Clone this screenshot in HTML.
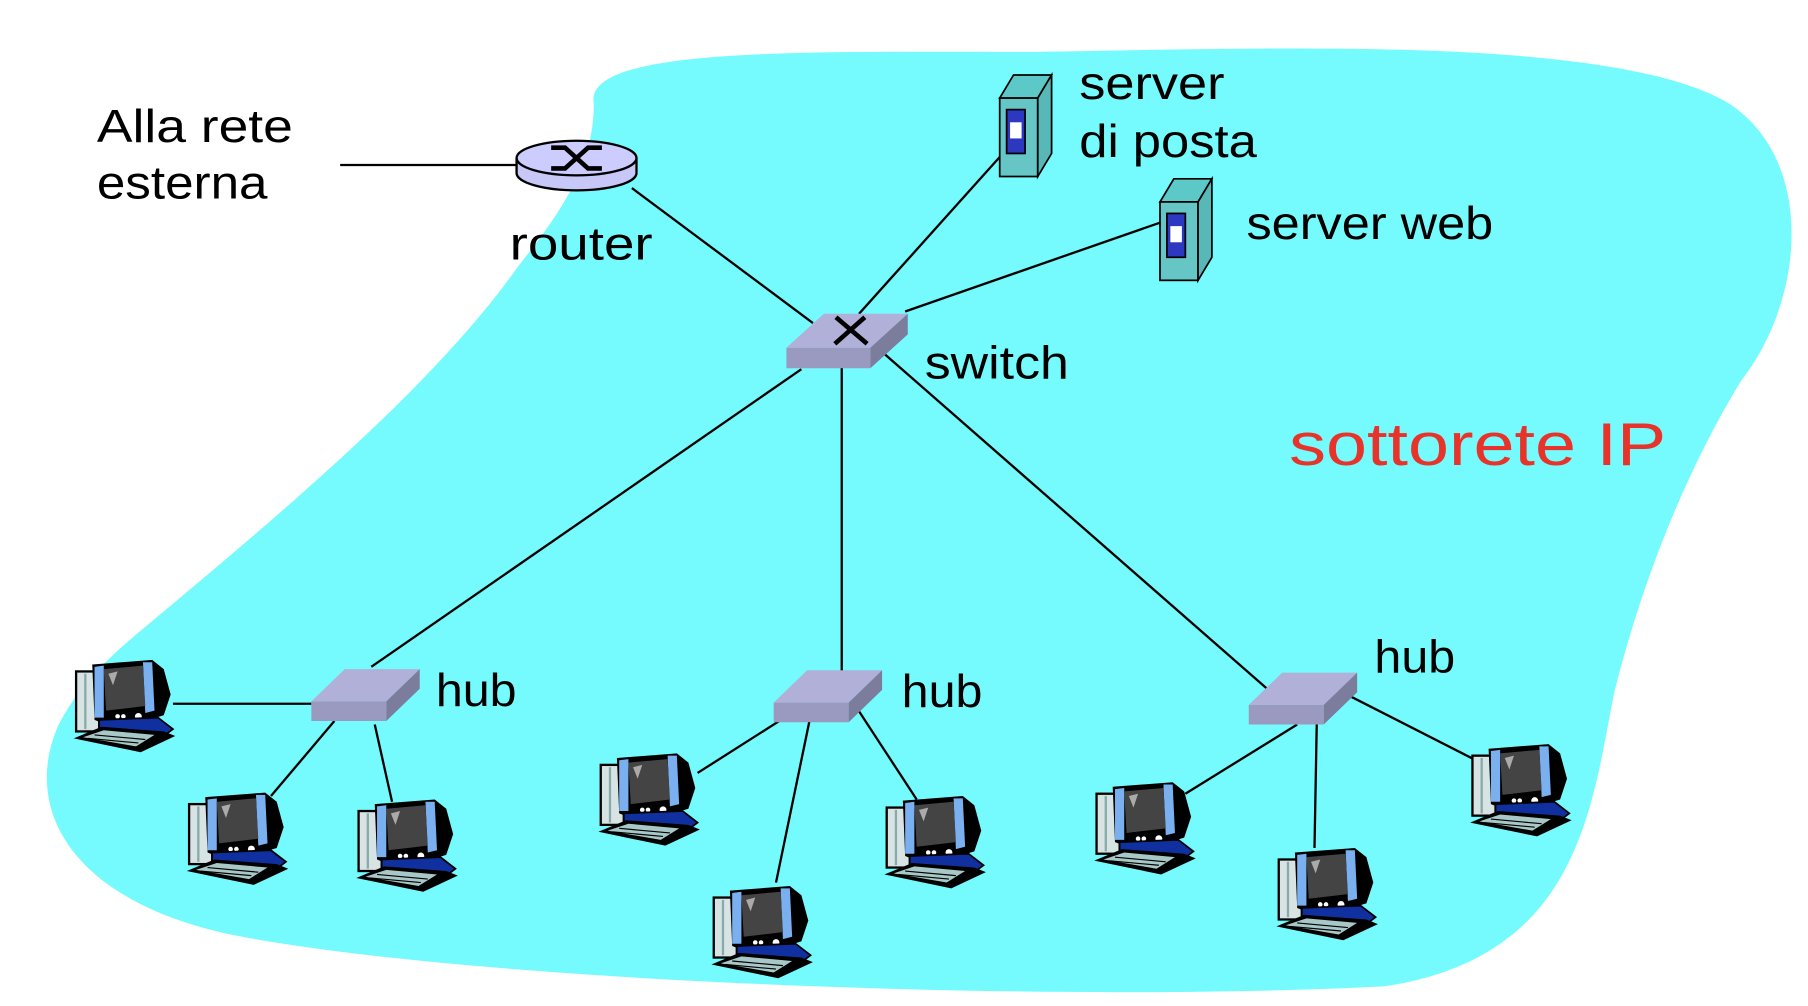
<!DOCTYPE html>
<html><head><meta charset="utf-8"><style>
html,body{margin:0;padding:0;background:#fff;width:1808px;height:1006px;overflow:hidden}
svg{display:block}
text{font-family:"Liberation Sans",sans-serif;font-size:40px;fill:#000}
</style></head><body>
<svg width="1808" height="1006" viewBox="0 0 1568 872" preserveAspectRatio="none">
<defs>
<g id="pc">
  <rect x="4" y="10" width="20" height="52" fill="#d8e4e4" stroke="#000" stroke-width="2"/>
  <line x1="12" y1="12" x2="12" y2="60" stroke="#8aa" stroke-width="2"/>
  <path d="M18 4 L70 0 L80 8 L86 30 L80 48 L60 54 L30 56 L20 52 Z" fill="#000"/>
  <path d="M20 6 L28 5 L28 50 L20 50 Z" fill="#7ab0f0"/>
  <path d="M62 2 L70 2 L72 44 L64 46 Z" fill="#7ab0f0"/>
  <path d="M28 8 L62 5 L64 40 L30 44 Z" fill="#444"/>
  <path d="M32 12 L40 10 L36 22 Z" fill="#aaa"/>
  <circle cx="40" cy="49" r="2" fill="#fff"/><circle cx="45" cy="49" r="2" fill="#fff"/><circle cx="58" cy="49" r="3" fill="#fff"/>
  <path d="M24 52 L75 50 L88 60 L80 66 L24 64 Z" fill="#1030a0" stroke="#000" stroke-width="1.5"/>
  <path d="M2 68 L26 58 L80 62 L90 66 L60 80 Z" fill="#000"/>
  <path d="M10 67 L28 61 L72 65 L56 75 Z" fill="#a8c8c8"/>
  <path d="M14 68 L58 72 M20 65 L64 69" stroke="#000" stroke-width="1"/>
</g>
<g id="hub">
  <polygon points="0,28 29,0 94,0 65,28" fill="#b0b0d8"/>
  <polygon points="0,28 65,28 65,45 0,45" fill="#9a9ac0"/>
  <polygon points="65,28 94,0 94,17 65,45" fill="#7c7c9c"/>
</g>
<g id="srv">
  <polygon points="0,20 12,0 45,0 33,20" fill="#5cc8c8" stroke="#000" stroke-width="1.5"/>
  <rect x="0" y="20" width="33" height="68" fill="#66c6c6" stroke="#000" stroke-width="1.5"/>
  <polygon points="33,20 45,0 45,68 33,88" fill="#58b8b8" stroke="#000" stroke-width="1.5"/>
  <rect x="6" y="30" width="16" height="38" fill="#2c38c0" stroke="#000" stroke-width="1.5"/>
  <rect x="9" y="41" width="10" height="14" fill="#fff"/>
</g>
</defs>
<path d="M515 90 C 505 40, 700 45, 900 45 C 1100 42, 1400 30, 1500 90 C 1575 140, 1565 260, 1510 330 C 1455 420, 1420 520, 1400 600 C 1380 700, 1370 830, 1200 855 C 900 870, 400 850, 200 810 C 60 780, 20 700, 50 630 C 70 590, 100 565, 130 540 C 250 440, 380 330, 450 230 C 490 180, 515 140, 515 90 Z" fill="#75fbfd"/>
<g stroke="#000" stroke-width="2" fill="none">
<line x1="295" y1="143" x2="450" y2="143"/>
<line x1="548" y1="163" x2="705" y2="280"/>
<line x1="745" y1="272" x2="868" y2="135"/>
<line x1="785" y1="270" x2="1006" y2="193"/>
<line x1="695" y1="320" x2="322" y2="578"/>
<line x1="730" y1="318" x2="730" y2="582"/>
<line x1="765" y1="305" x2="1100" y2="598"/>
<line x1="150" y1="610" x2="270" y2="610"/>
<line x1="290" y1="625" x2="235" y2="690"/>
<line x1="325" y1="628" x2="340" y2="695"/>
<line x1="682" y1="621" x2="605" y2="670"/>
<line x1="702" y1="625" x2="673" y2="765"/>
<line x1="742" y1="612" x2="795" y2="693"/>
<line x1="1125" y1="628" x2="1028" y2="688"/>
<line x1="1142" y1="625" x2="1140" y2="735"/>
<line x1="1170" y1="603" x2="1282" y2="660"/>
</g>
<path d="M448 137 L448 150 A52 15 0 0 0 552 150 L552 137" fill="#c8c8f8" stroke="#000" stroke-width="2"/>
<ellipse cx="500" cy="137" rx="52" ry="15" fill="#ccccff" stroke="#000" stroke-width="2"/>
<path d="M478 128 L490 128 L510 146 L522 146 M478 146 L490 146 L510 128 L522 128" stroke="#000" stroke-width="4" fill="none"/>
<use href="#hub" transform="translate(682 272) scale(1.12 1.05)"/>
<path d="M725 275 L752 298 M750 275 L724 298" stroke="#000" stroke-width="4"/>
<use href="#hub" x="270" y="580"/>
<use href="#hub" x="671" y="581"/>
<use href="#hub" x="1083" y="583"/>
<use href="#srv" x="867" y="65"/>
<use href="#srv" x="1006" y="155"/>
<use href="#pc" x="62" y="572"/>
<use href="#pc" x="160" y="687"/>
<use href="#pc" x="307" y="693"/>
<use href="#pc" x="517" y="653"/>
<use href="#pc" x="615" y="768"/>
<use href="#pc" x="765" y="690"/>
<use href="#pc" x="947" y="678"/>
<use href="#pc" x="1105" y="735"/>
<use href="#pc" x="1273" y="645"/>
<text x="84" y="123" textLength="170" lengthAdjust="spacingAndGlyphs">Alla rete</text>
<text x="84" y="172" textLength="148" lengthAdjust="spacingAndGlyphs">esterna</text>
<text x="442" y="225" textLength="124" lengthAdjust="spacingAndGlyphs">router</text>
<text x="936" y="86" textLength="126" lengthAdjust="spacingAndGlyphs">server</text>
<text x="936" y="136" textLength="154" lengthAdjust="spacingAndGlyphs">di posta</text>
<text x="1081" y="207" textLength="214" lengthAdjust="spacingAndGlyphs">server web</text>
<text x="802" y="328" textLength="125" lengthAdjust="spacingAndGlyphs">switch</text>
<text x="378" y="612" textLength="70" lengthAdjust="spacingAndGlyphs">hub</text>
<text x="782" y="613" textLength="70" lengthAdjust="spacingAndGlyphs">hub</text>
<text x="1192" y="583" textLength="70" lengthAdjust="spacingAndGlyphs">hub</text>
<text x="1118" y="403" textLength="327" lengthAdjust="spacingAndGlyphs" style="font-size:52px;fill:#e8332a">sottorete IP</text>
</svg>
</body></html>
